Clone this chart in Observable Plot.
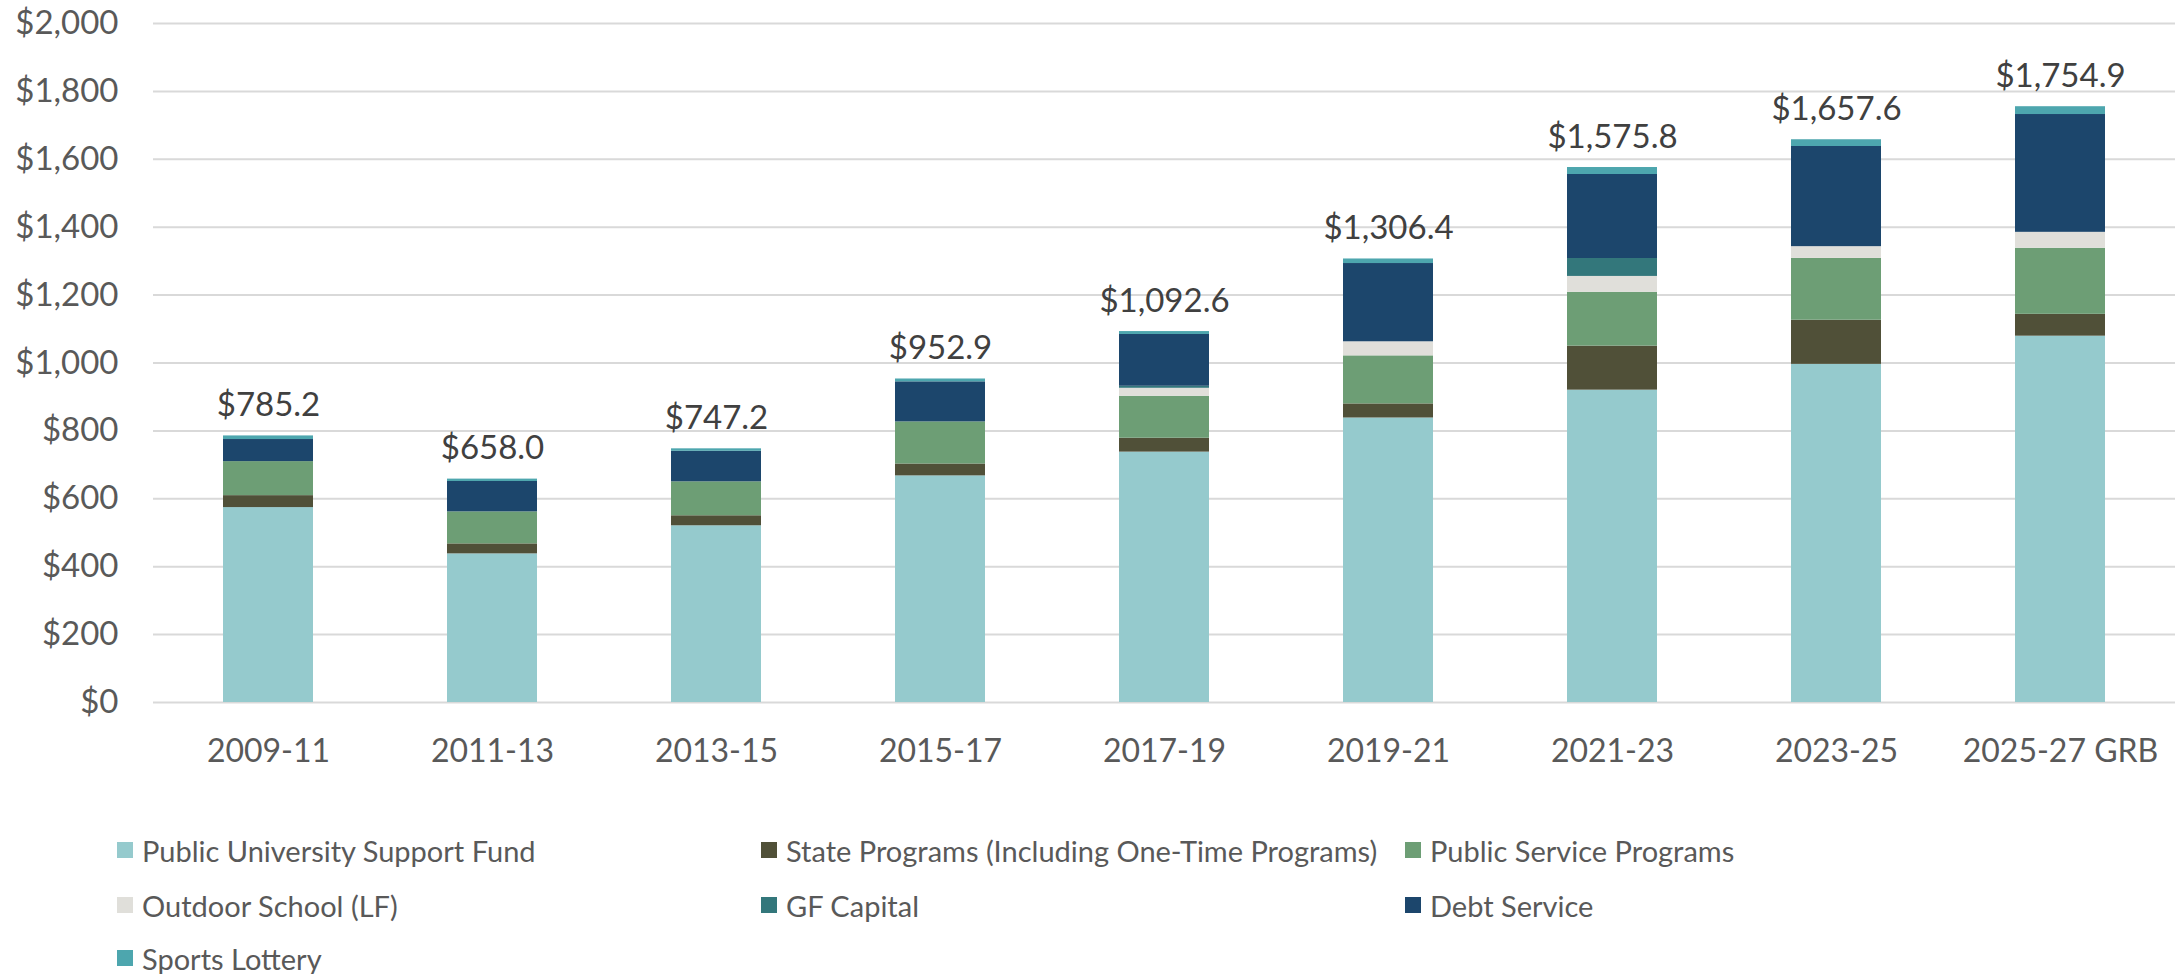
<!DOCTYPE html>
<html><head><meta charset="utf-8">
<script src="https://cdn.jsdelivr.net/npm/d3@7"></script>
<script src="https://cdn.jsdelivr.net/npm/@observablehq/plot@0.6"></script>
<style>
body{margin:0;background:#fff;font-family:Lato, sans-serif;}
#legend{position:relative;width:2175px;height:192px;}
.item{position:absolute;display:flex;align-items:center;height:40px;font-size:29px;color:#595959;white-space:nowrap;}
.sw{width:16px;height:16px;margin-right:9px;flex:none;}
</style></head><body>
<div id="chart"></div><div id="legend"></div>
<script>
const categories = ["2009-11","2011-13","2013-15","2015-17","2017-19","2019-21","2021-23","2023-25","2025-27 GRB"];
const seriesNames = ["Public University Support Fund","State Programs (Including One-Time Programs)","Public Service Programs","Outdoor School (LF)","GF Capital","Debt Service","Sports Lottery"];
const colors = ["#95cacd","#505038","#6d9e75","#e0dfda","#33777b","#1c466c","#4da6ae"];
const pusf    = [574.1, 437.8, 520.5, 667.5, 737.5, 838.0, 920.0, 996.0, 1079.0];
const state   = [35.2, 29.4, 29.5, 35.0, 41.0, 41.5, 129.7, 130.0, 64.4];
const psp     = [100.2, 94.3, 100.0, 124.0, 123.5, 141.5, 158.5, 182.0, 194.5];
const outdoor = [0, 0, 0, 0, 23.5, 41.5, 46.8, 34.7, 47.0];
const gfCapital = [0, 0, 0, 0, 6.0, 0, 52.8, 0, 0];
const debt    = [65.1, 89.5, 90.0, 118.0, 152.5, 230.5, 247.4, 295.0, 347.0];
const sports  = [10.6, 7.0, 7.2, 8.4, 8.6, 13.4, 20.6, 19.9, 23.0];
const totals  = [785.2, 658.0, 747.2, 952.9, 1092.6, 1306.4, 1575.8, 1657.6, 1754.9];
const yTicks  = [0, 200, 400, 600, 800, 1000, 1200, 1400, 1600, 1800, 2000];

const seriesValues = [pusf, state, psp, outdoor, gfCapital, debt, sports];
const rows = [];
categories.forEach((c, i) => seriesNames.forEach((s, j) => rows.push({category: c, series: s, value: seriesValues[j][i]})));
const totalRows = categories.map((c, i) => ({category: c, total: totals[i]}));
const fmtVal = d3.format("$,.1f");

const chart = Plot.plot({
  width: 2175, height: 782,
  marginLeft: 153, marginRight: 0, marginTop: 23, marginBottom: 80,
  style: {fontFamily: "Lato, sans-serif", background: "#fff", overflow: "visible"},
  x: {domain: categories, paddingInner: 0.6, paddingOuter: 0.3, label: null},
  y: {domain: [0, 2000], label: null},
  color: {domain: seriesNames, range: colors},
  marks: [
    Plot.ruleY(yTicks, {stroke: "#d9d9d9", strokeWidth: 2}),
    Plot.barY(rows, Plot.stackY({order: seriesNames}, {x: "category", y: "value", fill: "series"})),
    Plot.text(totalRows, {x: "category", y: "total", text: d => fmtVal(d.total), dy: -20, lineAnchor: "bottom", fontSize: 33, fill: "#404040"}),
    Plot.axisX({tickSize: 0, tickPadding: 37, fontSize: 32, color: "#595959", label: null}),
    Plot.axisY({ticks: yTicks, tickSize: 0, tickPadding: 35, fontSize: 33, color: "#595959", tickFormat: d3.format("$,.0f"), label: null})
  ]
});
document.getElementById("chart").appendChild(chart);

const legend = document.getElementById("legend");
const colX = [117, 761, 1405];
const rowY = [68, 123, 176];
seriesNames.forEach((s, i) => {
  const item = document.createElement("div");
  item.className = "item";
  item.style.left = colX[i % 3] + "px";
  item.style.top = (rowY[Math.floor(i / 3)] - 20) + "px";
  const sw = document.createElement("span");
  sw.className = "sw";
  sw.style.background = colors[i];
  const t = document.createElement("span");
  t.textContent = s;
  item.appendChild(sw); item.appendChild(t);
  legend.appendChild(item);
});
</script>
</body></html>
